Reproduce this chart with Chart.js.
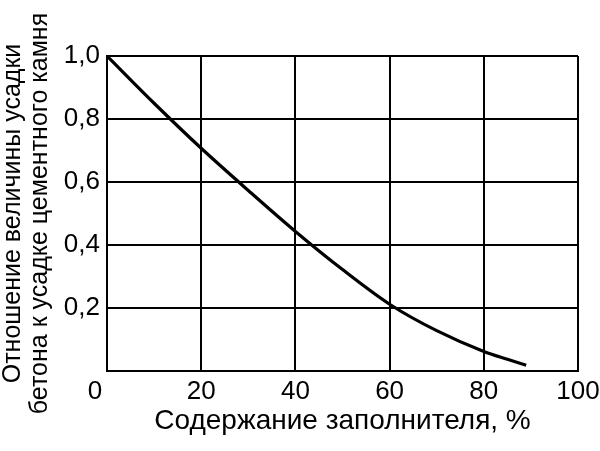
<!DOCTYPE html>
<html><head><meta charset="utf-8">
<script src="https://cdn.jsdelivr.net/npm/chart.js@4.4.1/dist/chart.umd.min.js"></script>
<style>html,body{margin:0;padding:0;background:#fff}#c{display:block}</style>
</head><body>
<canvas id="c" width="600" height="451"></canvas>
<script>
const fillerPct = [0, 10, 20, 30, 40, 50, 60, 70, 80, 85, 89];
const shrinkRatio = [1.0, 0.85, 0.707, 0.573, 0.443, 0.322, 0.212, 0.128, 0.062, 0.037, 0.018];
const xTicks = [0, 20, 40, 60, 80, 100];
const yTicks = [0, 0.2, 0.4, 0.6, 0.8, 1.0];
const yTitle = ['Отношение величины усадки', 'бетона к усадке цементного камня'];
const xTitle = 'Содержание заполнителя, %';

const FONT = 'Liberation Sans, Arial, sans-serif';
const TICK_SIZE = 26;
const points = fillerPct.map((x, i) => ({x: x, y: shrinkRatio[i]}));

const zeroLabel = {
  id: 'zeroLabel',
  afterDraw(chart) {
    const xs = chart.scales.x;
    const items = xs.getLabelItems();
    if (!items.length) return;
    const it = items[0];
    const ctx = chart.ctx;
    ctx.save();
    ctx.font = TICK_SIZE + 'px ' + FONT;
    ctx.fillStyle = '#000';
    ctx.textAlign = it.options.textAlign;
    ctx.textBaseline = it.options.textBaseline;
    ctx.fillText('0', it.options.translation[0] - 12, it.options.translation[1] + (it.textOffset || 0));
    ctx.restore();
  }
};

new Chart(document.getElementById('c'), {
  type: 'line',
  data: {
    datasets: [{
      data: points,
      borderColor: '#000',
      borderWidth: 3.2,
      pointRadius: 0,
      cubicInterpolationMode: 'monotone',
      fill: false
    }]
  },
  options: {
    responsive: false,
    animation: false,
    devicePixelRatio: 1,
    layout: {padding: {top: 56, right: 22, left: 0, bottom: 0}},
    plugins: {legend: {display: false}, tooltip: {enabled: false}},
    scales: {
      x: {
        type: 'linear',
        min: 0, max: 100,
        afterBuildTicks: s => { s.ticks = xTicks.map(v => ({value: v})); },
        afterFit: s => { s.height = 80; s.paddingRight = 0; s.paddingLeft = 0; },
        ticks: {
          color: ctx => ctx.tick && ctx.tick.value === 0 ? 'rgba(0,0,0,0)' : '#000',
          font: {family: FONT, size: TICK_SIZE},
          padding: 5,
          maxRotation: 0,
          autoSkip: false,
          callback: v => String(v)
        },
        grid: {color: '#000', lineWidth: 2, drawTicks: false},
        border: {color: '#000', width: 2},
        title: {display: true, text: xTitle, color: '#000', font: {family: FONT, size: 28}, padding: {top: 0, bottom: 13}}
      },
      y: {
        min: 0, max: 1,
        afterBuildTicks: s => { s.ticks = yTicks.map(v => ({value: v})); },
        afterFit: s => { s.width = 107; },
        ticks: {
          color: '#000',
          font: {family: FONT, size: TICK_SIZE},
          padding: 7,
          autoSkip: false,
          callback: v => v === 0 ? '' : v.toFixed(1).replace('.', ',')
        },
        grid: {color: '#000', lineWidth: 2, drawTicks: false},
        border: {color: '#000', width: 2},
        title: {display: true, text: yTitle, color: '#000', font: {family: FONT, size: 25, lineHeight: 1.08}, padding: {top: 0, bottom: 0}}
      }
    }
  },
  plugins: [zeroLabel]
});
</script>
</body></html>
